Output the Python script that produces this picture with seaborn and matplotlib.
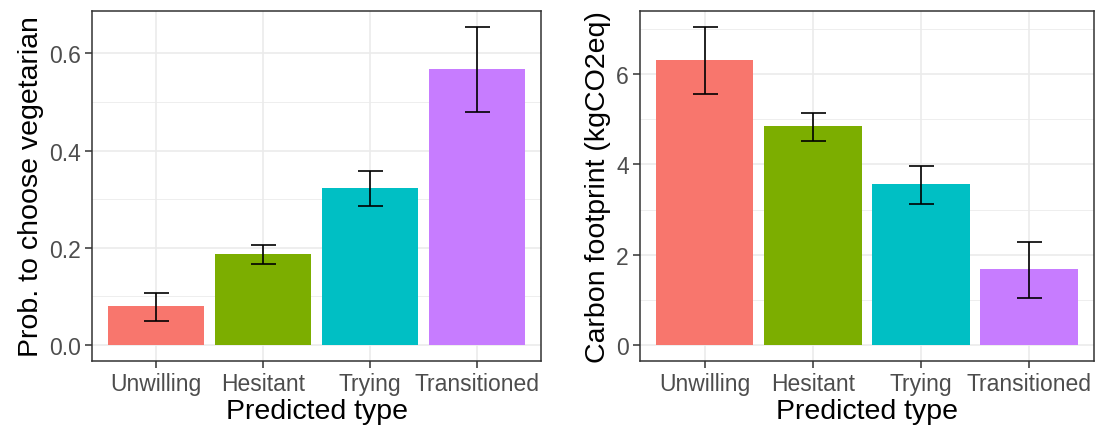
import matplotlib
matplotlib.use('Agg')
import matplotlib.pyplot as plt
import seaborn as sns
import pandas as pd

types = ['Unwilling', 'Hesitant', 'Trying', 'Transitioned']
colors = ['#F8766D', '#7CAE00', '#00BFC4', '#C77CFF']

prob_veg = [0.080, 0.188, 0.323, 0.568]
prob_lo = [0.049, 0.167, 0.287, 0.480]
prob_hi = [0.107, 0.206, 0.357, 0.654]

carbon = [6.31, 4.84, 3.57, 1.69]
carbon_lo = [5.56, 4.51, 3.13, 1.04]
carbon_hi = [7.04, 5.13, 3.96, 2.29]

sns.set_theme(style='white')
plt.rcParams['font.family'] = ['Liberation Sans', 'DejaVu Sans']

fig = plt.figure(figsize=(11.05, 4.31), dpi=100)
ax1 = fig.add_axes([0.0833, 0.160, 0.4063, 0.812])
ax2 = fig.add_axes([0.5792, 0.160, 0.4108, 0.812])


def panel(ax, vals, lo, hi, ylabel, ymax, major, minor):
    df = pd.DataFrame({'type': types, 'val': vals})
    ax.set_axisbelow(True)
    for v in minor:
        ax.axhline(v, color='#EBEBEB', lw=0.6, zorder=0)
    for v in major:
        ax.axhline(v, color='#EBEBEB', lw=1.2, zorder=0)
    for i in range(len(types)):
        ax.axvline(i, color='#EBEBEB', lw=1.2, zorder=0)
    sns.barplot(data=df, x='type', y='val', hue='type', palette=colors,
                order=types, width=0.9, legend=False, ax=ax, zorder=2,
                edgecolor='none', saturation=1)
    yerr = [[v - l for v, l in zip(vals, lo)], [h - v for v, h in zip(vals, hi)]]
    ax.errorbar(range(len(types)), vals, yerr=yerr, fmt='none', ecolor='black',
                elinewidth=1.2, capsize=9, capthick=1.2, zorder=3)
    pad = ymax * 0.05
    ax.set_ylim(-pad, ymax + pad)
    ax.set_xlim(-0.6, 3.6)
    ax.set_yticks(major)
    ax.set_xlabel('Predicted type', fontsize=20.5, color='black', labelpad=2)
    ax.set_ylabel(ylabel, fontsize=20.5, color='black', labelpad=4)
    ax.tick_params(axis='both', labelsize=16.5, colors='#4D4D4D', length=5,
                   width=1.1, color='#333333', left=True, bottom=True, pad=3)
    for s in ax.spines.values():
        s.set_color('#333333')
        s.set_linewidth(1.1)


panel(ax1, prob_veg, prob_lo, prob_hi, 'Prob. to choose vegetarian', 0.654,
      [0.0, 0.2, 0.4, 0.6], [0.1, 0.3, 0.5])
ax1.set_yticklabels(['0.0', '0.2', '0.4', '0.6'])
panel(ax2, carbon, carbon_lo, carbon_hi, 'Carbon footprint (kgCO2eq)', 7.04,
      [0, 2, 4, 6], [1, 3, 5, 7])

fig.savefig('out.png', dpi=100)
